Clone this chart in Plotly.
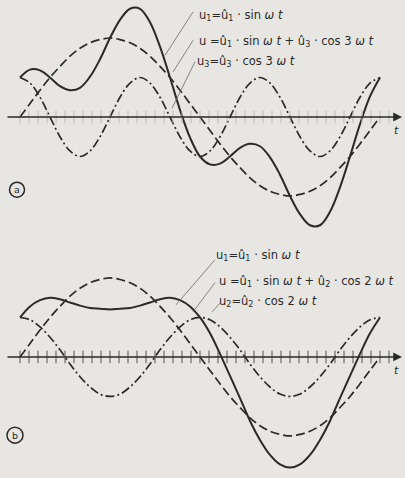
import plotly.graph_objects as go

# phase angle omega*t in degrees, sampled every 10 deg
t = list(range(0, 361, 10))

# panel a: fundamental, 3rd harmonic, sum (u1 peak = 1)
a_u1 = [0, .17, .34, .5, .64, .77, .87, .94, .98, 1, .98, .94, .87, .77, .64, .5, .34, .17, 0,
        -.17, -.34, -.5, -.64, -.77, -.87, -.94, -.98, -1, -.98, -.94, -.87, -.77, -.64, -.5, -.34, -.17, 0]
a_u3 = [.5, .43, .25, 0, -.25, -.43, -.5, -.43, -.25, 0, .25, .43,
        .5, .43, .25, 0, -.25, -.43, -.5, -.43, -.25, 0, .25, .43,
        .5, .43, .25, 0, -.25, -.43, -.5, -.43, -.25, 0, .25, .43, .5]
a_u = [.5, .60, .59, .5, .39, .34, .37, .51, .73, 1.0, 1.23, 1.37, 1.37, 1.20, .89, .5, .09, -.26, -.5,
       -.60, -.59, -.5, -.39, -.34, -.37, -.51, -.73, -1.0, -1.23, -1.37, -1.37, -1.20, -.89, -.5, -.09, .26, .5]

# panel b: fundamental, 2nd harmonic, sum
b_u1 = a_u1
b_u2 = [.5, .47, .38, .25, .09, -.09, -.25, -.38, -.47, -.5, -.47, -.38, -.25, -.09, .09, .25, .38, .47,
        .5, .47, .38, .25, .09, -.09, -.25, -.38, -.47, -.5, -.47, -.38, -.25, -.09, .09, .25, .38, .47, .5]
b_u = [.5, .64, .72, .75, .73, .69, .65, .62, .61, .60, .61, .62, .65, .69, .73, .75, .72, .64, .5,
       .30, .04, -.24, -.52, -.81, -1.05, -1.24, -1.36, -1.40, -1.36, -1.24, -1.05, -.81, -.52, -.24, .04, .30, .5]

tick_t = list(range(0, 375, 9))

INK = '#2a2a2a'
PAPER = '#e7e6e2'
FONT = 'DejaVu Sans'

fig = go.Figure()

def add_panel(xa, ya, u1, uh, u, tick_color):
    fig.add_trace(go.Scatter(x=t, y=u1, mode='lines', line_shape='spline', xaxis=xa, yaxis=ya,
                             line=dict(color=INK, width=1.7, dash='9px,4px')))
    fig.add_trace(go.Scatter(x=t, y=uh, mode='lines', line_shape='spline', xaxis=xa, yaxis=ya,
                             line=dict(color=INK, width=1.7, dash='9px,3px,2px,3px')))
    fig.add_trace(go.Scatter(x=t, y=u, mode='lines', line_shape='spline', xaxis=xa, yaxis=ya,
                             line=dict(color=INK, width=2)))
    fig.add_trace(go.Scatter(x=tick_t, y=[0] * len(tick_t), mode='markers', xaxis=xa, yaxis=ya,
                             marker=dict(symbol='line-ns', size=9, line=dict(color=tick_color, width=1))))

add_panel('x', 'y', a_u1, a_u3, a_u, '#bdbcb8')
add_panel('x2', 'y2', b_u1, b_u2, b_u, '#555555')

ann = []
shapes = []
for xr, yr in [('x', 'y'), ('x2', 'y2')]:
    # t axis with arrow
    ann.append(dict(x=382, y=0, ax=-14, ay=0, xref=xr, yref=yr, axref=xr, ayref=yr, text='',
                    showarrow=True, arrowhead=2, arrowsize=1.1, arrowwidth=1.6, arrowcolor=INK))
    ann.append(dict(x=376, y=-0.17, xref=xr, yref=yr, text='<i>t</i>', showarrow=False,
                    font=dict(size=11, color=INK, family=FONT)))

labels_a = [
    (177, 1.29, 'u<sub>1</sub>=û<sub>1</sub> · sin <i>ω t</i>'),
    (177, 0.95, 'u =û<sub>1</sub> · sin <i>ω t</i> + û<sub>3</sub> · cos 3 <i>ω t</i>'),
    (175, 0.70, 'u<sub>3</sub>=û<sub>3</sub> · cos 3 <i>ω t</i>'),
]
labels_b = [
    (194, 1.29, 'u<sub>1</sub>=û<sub>1</sub> · sin <i>ω t</i>'),
    (197, 0.95, 'u =û<sub>1</sub> · sin <i>ω t</i> + û<sub>2</sub> · cos 2 <i>ω t</i>'),
    (197, 0.70, 'u<sub>2</sub>=û<sub>2</sub> · cos 2 <i>ω t</i>'),
]
for (xr, yr, labels) in [('x', 'y', labels_a), ('x2', 'y2', labels_b)]:
    for x, y, s in labels:
        ann.append(dict(x=x, y=y, xref=xr, yref=yr, text=s, showarrow=False, xanchor='left',
                        yanchor='middle', font=dict(size=11.5, color=INK, family=FONT)))

leaders_a = [(173, 1.33, 145, 0.78), (173, 0.97, 153, 0.57), (175, 0.70, 152, 0.11)]
leaders_b = [(195, 1.23, 156, 0.66), (195, 0.94, 173, 0.57), (200, 0.68, 192, 0.57)]
for (xr, yr, leaders) in [('x', 'y', leaders_a), ('x2', 'y2', leaders_b)]:
    for x0, y0, x1, y1 in leaders:
        shapes.append(dict(type='line', xref=xr, yref=yr, x0=x0, y0=y0, x1=x1, y1=y1,
                           line=dict(color='#6a6a6a', width=0.8)))

# circled panel letters
for xr, yr, cx, cy, r, letter in [('x', 'y', -3, -0.92, 7.5, 'a'), ('x2', 'y2', -5, -0.99, 8, 'b')]:
    shapes.append(dict(type='circle', xref=xr, yref=yr, x0=cx - r, x1=cx + r,
                       y0=cy - r / 79, y1=cy + r / 79, line=dict(color=INK, width=1.5)))
    ann.append(dict(x=cx, y=cy, xref=xr, yref=yr, text=letter, showarrow=False,
                    font=dict(size=9.5, color=INK, family=FONT)))

axis_style = dict(visible=False, fixedrange=True)
fig.update_layout(
    width=405, height=478,
    margin=dict(l=0, r=0, t=0, b=0),
    paper_bgcolor=PAPER, plot_bgcolor=PAPER,
    showlegend=False,
    xaxis=dict(domain=[0, 1], range=[-20, 385], anchor='y', **axis_style),
    yaxis=dict(domain=[0.502, 1], range=[-1.532, 1.481], anchor='x', **axis_style),
    xaxis2=dict(domain=[0, 1], range=[-20, 385], anchor='y2', **axis_style),
    yaxis2=dict(domain=[0, 0.498], range=[-1.532, 1.481], anchor='x2', **axis_style),
    annotations=ann,
    shapes=shapes,
)

# page margin off so the figure fills the 405x478 window
fig.write_html("out.html", config={'displayModeBar': False},
               post_script="document.body.style.margin='0';")
